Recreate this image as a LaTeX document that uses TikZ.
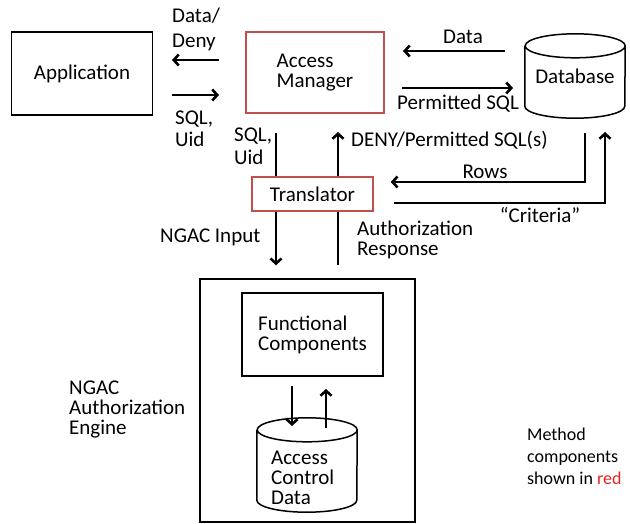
\documentclass[tikz,border=0pt]{standalone}
\usepackage{fontspec}
\setmainfont{Carlito}
\usetikzlibrary{arrows.meta}
\definecolor{boxred}{RGB}{192,80,77}
\definecolor{notered}{RGB}{230,35,35}
\begin{document}
\begin{tikzpicture}[
	x=1pt, y=-1pt,
	font=\fontsize{21}{20}\selectfont,
	box/.style={ draw, line width=1.5pt, inner sep=0pt, align=left },
	redbox/.style={ draw=boxred, line width=1.5pt, fill=white, inner sep=0pt, align=left },
	store/.style={ inner sep=0pt, minimum width=100pt, align=left },
	arr/.style={ line width=2.6pt, -{Straight Barb[length=5pt,width=11pt]} },
	lbl/.style={ anchor=west, inner sep=0pt, align=left }
]
\useasboundingbox (0,0) rectangle (630,523);

\node at (82,73.5) (app) [box,minimum width=141pt,minimum height=83pt] {Application};
\node at (315,72.5) (am) [redbox,minimum width=138pt,minimum height=81pt] {Access\\Manager};
\node at (575,76) (db) [store,minimum height=84pt] {Database};
\node at (307.5,400.5) (ngac) [box,minimum width=215pt,minimum height=243pt] {};
\node at (312.5,334.5) (fc) [box,minimum width=141pt,minimum height=83pt] {Functional\\Components};
\node at (307,465) (acd) [store,minimum height=94pt] {};
\node at (271,478) (acdt) [lbl] {Access\\Control\\Data};

\foreach \c in {db,acd}
	\draw[line width=1.5pt] ([yshift=-12pt]\c.north west) -- ([yshift=12pt]\c.south west)
		arc[start angle=180,end angle=360,x radius=50pt,y radius=12pt] -- ([yshift=-12pt]\c.north east)
		arc[start angle=0,end angle=360,x radius=50pt,y radius=12pt];

\coordinate (dd1) at (219,60);
\coordinate (dd2) at (172,60);
\coordinate (su1) at (172,95);
\coordinate (su2) at (219,95);
\coordinate (da1) at (505,51);
\coordinate (da2) at (403,51);
\coordinate (ps1) at (402,88);
\coordinate (ps2) at (513,88);
\coordinate (down) at (276,133);
\coordinate (up) at (338,132);
\coordinate (rows) at (585,133);
\coordinate (crit) at (605,132);
\coordinate (fcd1) at (292,386);
\coordinate (fcd2) at (292,426);
\coordinate (fcu1) at (326,428);
\coordinate (fcu2) at (326,389);

\foreach \a/\b in {dd1/dd2,su1/su2,da1/da2,ps1/ps2,fcd1/fcd2,fcu1/fcu2} \draw[arr] (\a) -- (\b);

\node at (312.5,194) (tr) [redbox,minimum width=121pt,minimum height=34pt] {Translator};
\draw[line width=2.6pt] (down) -- (down |- tr.north);
\draw[arr,shorten >=13pt] (down |- tr.south) -- (down |- ngac.north);
\draw[line width=2.6pt,shorten <=13pt] (up |- ngac.north) -- (up |- tr.south);
\draw[arr] (up |- tr.north) -- (up);
\draw[arr] (rows) |- ([xshift=17pt,yshift=12pt]tr.east);
\draw[arr] ([xshift=20pt,yshift=-9pt]tr.east) -| (crit);

\node at (172,29.5) (ddl) [lbl,font=\fontsize{21}{25}\selectfont] {Data/\\Deny};
\node at (175,129) (sul) [lbl,font=\fontsize{21}{22}\selectfont] {SQL,\\Uid};
\node at (234,146.5) (sql) [lbl,font=\fontsize{21}{23}\selectfont] {SQL,\\Uid};
\node at (463,37) (dal) {Data};
\node at (397,104) (psl) [lbl] {Permitted SQL};
\node at (351,140) (dpl) [lbl] {DENY/Permitted SQL(s)};
\node at (485,172) (rwl) {Rows};
\node at (540,215) (crl) {``Criteria''};
\node at (357,239.5) (arl) [lbl] {Authorization\\Response};
\node at (160,237) (nil) [lbl] {NGAC Input};
\node at (69,409.5) (nal) [lbl] {NGAC\\Authorization\\Engine};
\node at (527,456) (mcl) [lbl,font=\fontsize{18}{22}\selectfont] {Method\\components\\shown in \textcolor{notered}{red}};

\end{tikzpicture}
\end{document}
